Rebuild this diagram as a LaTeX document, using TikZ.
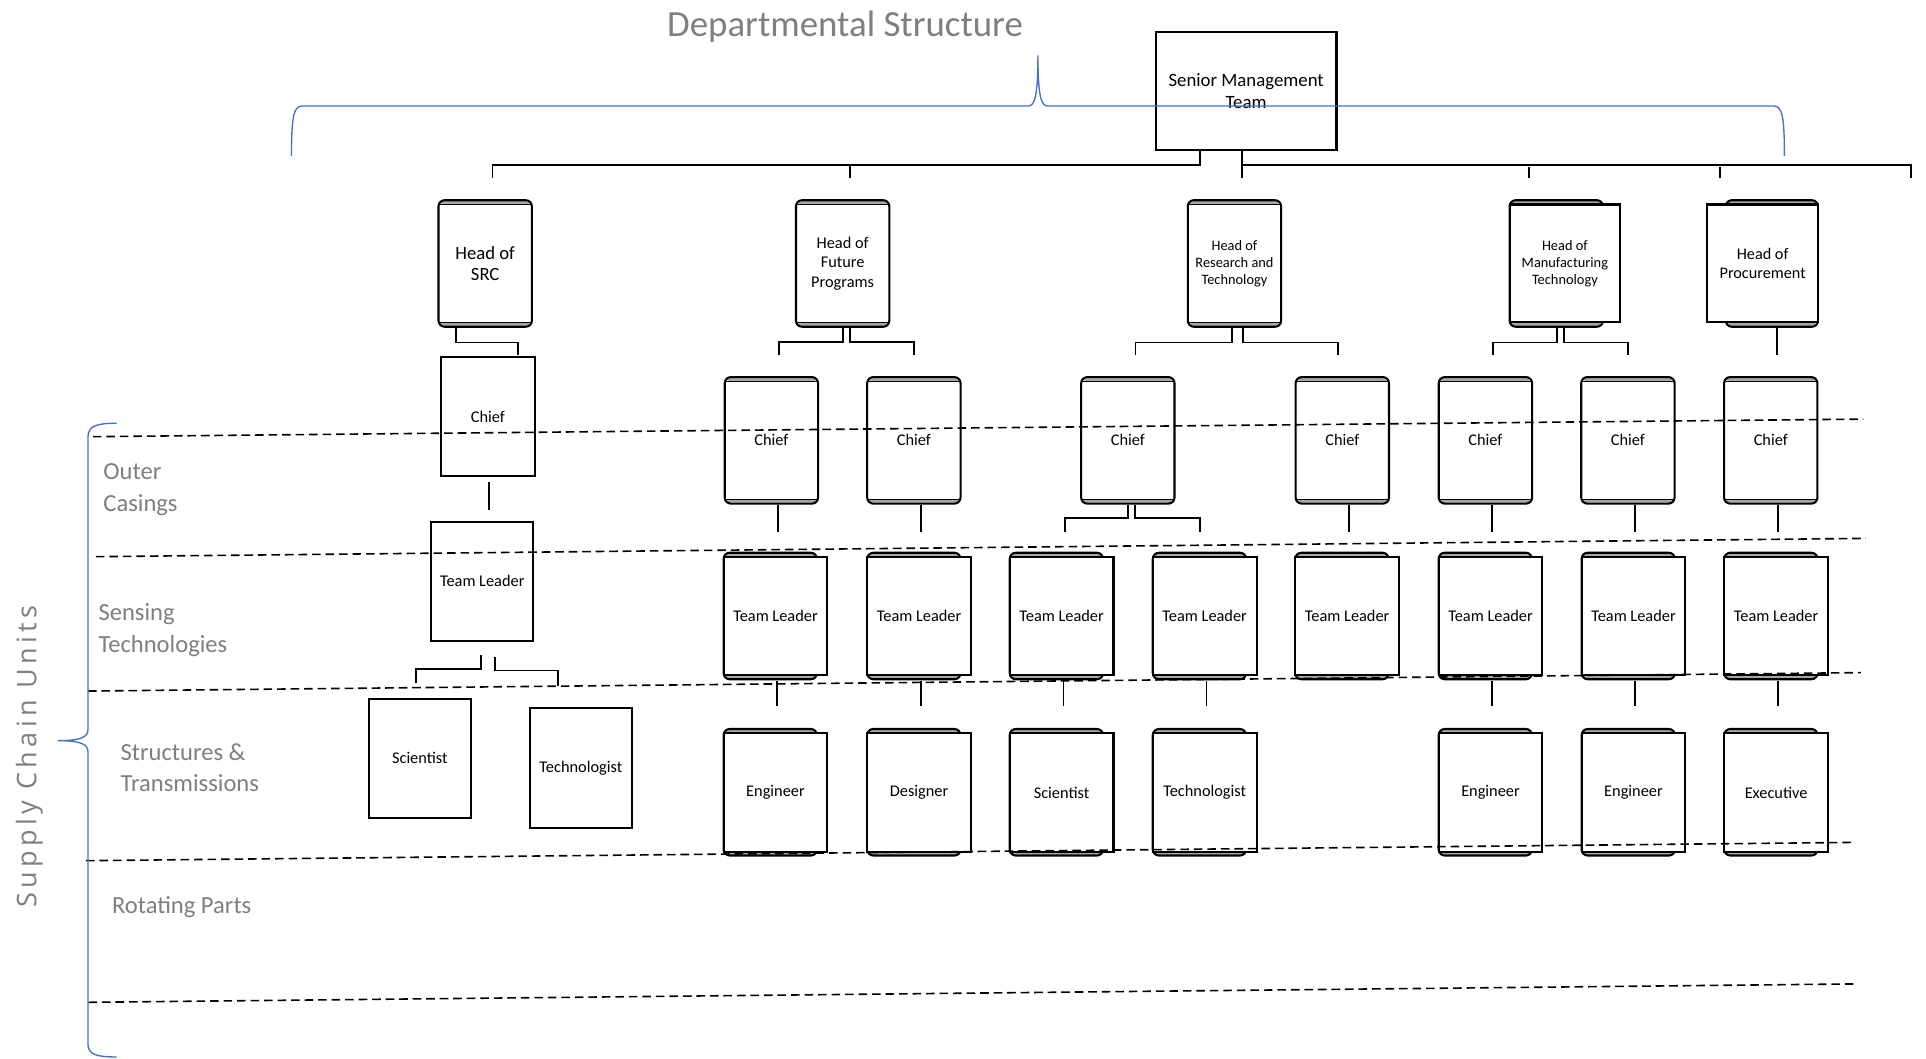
\documentclass[tikz,border=0pt]{standalone}
\usepackage{fontspec}
\setmainfont{Carlito}
\newfontfamily\scufont[LetterSpace=16]{Open Sans}
\usetikzlibrary{calc}
\definecolor{bracecol}{HTML}{4472C4}
\definecolor{labgray}{HTML}{7F7F7F}
\newcommand{\fs}[2]{\fontsize{#1}{#2}\selectfont}
\begin{document}
\begin{tikzpicture}[x=1pt,y=-1pt,
  conn/.style={line width=1.5pt},
  sepline/.style={line width=1.3pt, dash pattern=on 7pt off 4pt},
  bracepath/.style={draw=bracecol, line width=1.1pt},
  rbox/.style={draw, line width=1.7pt, rounded corners=5pt, fill=white, inner sep=0pt, align=center,
    minimum width=76pt, minimum height=103pt,
    path picture={
      \fill[black!35] ([yshift=-0.8pt]path picture bounding box.north west) rectangle ([yshift=-3.4pt]path picture bounding box.north east);
      \draw[line width=1pt] ([yshift=-3.4pt]path picture bounding box.north west) -- ([yshift=-3.4pt]path picture bounding box.north east);
      \fill[black!35] ([yshift=0.8pt]path picture bounding box.south west) rectangle ([yshift=3.4pt]path picture bounding box.south east);
      \draw[line width=1pt] ([yshift=3.4pt]path picture bounding box.south west) -- ([yshift=3.4pt]path picture bounding box.south east);
    }},
  sbox/.style={draw, line width=1.7pt, fill=white, inner sep=0pt, align=center},
  ttxt/.style={font=\fs{13.3}{16}},
  rowlab/.style={text=labgray, font=\fs{20}{26}, align=left, anchor=west, inner sep=0pt}
]
\fill[white] (0,0) rectangle (1568,862);
\useasboundingbox (0,0) rectangle (1568,862);

% title and side label
\node[font=\fs{30}{36}, text=labgray] (title) at (688,22) {Departmental Structure};
\node[font=\scufont\fs{22}{26}, text=labgray, rotate=90] (scu) at (24,616) {Supply Chain Units};

% row labels
\node[rowlab] (lab1) at (84,399) {Outer\\Casings};
\node[rowlab] (lab2) at (80,513) {Sensing\\Technologies};
\node[rowlab] (lab3) at (98,625) {Structures \&\\Transmissions};
\node[rowlab, anchor=base west] (lab4) at (91,744) {Rotating Parts};

% senior management
\node[sbox, line width=1.8pt, minimum width=147pt, minimum height=96pt, font=\fs{15.3}{17.5}] (smt) at (1014.5,74) {Senior Management\\Team};
\coordinate (e1) at (401,145);
\coordinate (e2) at (692,145);
\coordinate (e3) at (1011,145);
\coordinate (e4) at (1245,145);
\coordinate (e5) at (1400,145);
\coordinate (e6) at (1556,145);
\draw[conn] ([xshift=-37.5pt]smt.south) -- ++(0,11.5) -| (e1);
\draw[conn] (e2) -- ++(0,-11.5);
\draw[conn] ([xshift=-3.5pt]smt.south) -- (e3);
\draw[conn] ([xshift=-3.5pt,yshift=-11.5pt]smt.south) -| (e6);
\draw[conn] (e4) -- ++(0,-9);
\draw[conn] (e5) -- ++(0,-9);

% heads
\node[rbox, font=\fs{15.2}{17.5}] (hsrc) at (395,214.5) {Head of\\SRC};
\node[rbox, font=\fs{13.3}{16}] (hfp) at (686,214.5) {Head of\\Future\\Programs};
\node[rbox, font=\fs{11.7}{14}] (hrt) at (1005,214.5) {Head of\\Research and\\Technology};
\node[rbox] (hmtr) at (1267,214.5) {};
\node[sbox, minimum width=90pt, minimum height=96pt, font=\fs{11.7}{14}] (hmt) at (1274,214.5) {Head of\\Manufacturing\\Technology};
\node[rbox, minimum width=75pt] (hprr) at (1442.5,214.5) {};
\node[sbox, minimum width=90pt, minimum height=96pt, font=\fs{13.2}{16}] (hpr) at (1435,214.5) {Head of\\Procurement};

\draw[conn] ([xshift=-24pt]hsrc.south) -- ++(0,12) -| ++(51,10.5);
\draw[conn] ([xshift=0.4pt]hfp.south) -- ++(0,11.3) -| ++(-52.4,11.2);
\draw[conn] ([xshift=6pt]hfp.south) -- ++(0,11.3) -| ++(52,11.2);
\draw[conn] ([xshift=-2pt]hrt.south) -- ++(0,12) -| ++(-78.6,10.5);
\draw[conn] ([xshift=6.7pt]hrt.south) -- ++(0,12) -| ++(77.8,10.5);
\draw[conn] ([xshift=0.6pt]hmtr.south) -- ++(0,12) -| ++(-52.1,10.5);
\draw[conn] ([xshift=6.3pt]hmtr.south) -- ++(0,12) -| ++(51.9,10.5);
\draw[conn] ([xshift=4.5pt]hprr.south) -- ++(0,22.5);

% SRC column
\node[sbox, minimum width=76.4pt, minimum height=96.7pt, ttxt] (csrc) at (397.2,339.3) {Chief};
\node[sbox, minimum width=83.3pt, minimum height=96.9pt, ttxt] (tlsrc) at (392.6,473.1) {Team Leader};
\node[sbox, minimum width=83.2pt, minimum height=96.7pt, ttxt] (scsrc) at (341.8,617.4) {Scientist};
\node[sbox, minimum width=82.9pt, minimum height=97.1pt, ttxt] (tesrc) at (472.9,625.2) {Technologist};
\draw[conn] ([xshift=0.8pt,yshift=-4.3pt]csrc.south) -- ++(0,22);
\draw[conn] ([xshift=-1.2pt,yshift=-11.1pt]tlsrc.south) -- ++(0,11.3) -| ++(-52.4,11);
\draw[conn] ([xshift=10.1pt,yshift=-12.4pt]tlsrc.south) -- ++(0,11) -| ++(51.6,12.7);

% chiefs
\foreach \i/\x in {1/628, 2/744, 3/918.2, 4/1092.8, 5/1209.3, 6/1325.3, 7/1441.6}
  \node[rbox, ttxt] (c\i) at (\x,358.5) {Chief};
\foreach \i/\s in {1/5.4pt, 2/5.8pt, 4/5.6pt, 5/5.6pt, 6/5.6pt, 7/5.7pt}
  \draw[conn] ([xshift=\s]c\i.south) -- ++(0,22.2);
\draw[conn] ([xshift=0.4pt]c3.south) -- ++(0,10.8) -| ++(-51.7,11.4);
\draw[conn] ([xshift=6.1pt]c3.south) -- ++(0,10.8) -| ++(52.3,11.4);

% team leaders
\foreach \i/\x in {1/589.1, 2/706, 3/822, 4/938.5, 5/1054.5, 6/1171.2, 7/1287.6, 8/1403.7}{
  \node[rbox] (tlr\i) at ({\x+38},501.5) {};
  \node[sbox, minimum width=84.5pt, minimum height=96.3pt, ttxt] (tl\i) at ({\x+42.25},501.4) {Team Leader};
}

% bottom row
\foreach \i/\x/\t in {1/589.1/Engineer, 2/706/Designer, 3/822/Scientist, 4/938.5/Technologist, 6/1171.2/Engineer, 7/1287.6/Engineer, 8/1403.7/Executive}{
  \node[rbox] (chr\i) at ({\x+38},645) {};
  \node[sbox, minimum width=84.5pt, minimum height=96.4pt, ttxt] (ch\i) at ({\x+42.25},645.2) {\t};
  \draw[conn] ([xshift=1.5pt,yshift=-4pt]tl\i.south) -- ([xshift=1.5pt,yshift=21pt]ch\i.north);
}

% dashed separators
\draw[sepline] (75.6,355.5) -- (1517,341.2);
\draw[sepline] (78,453.2) -- (1519,438.3);
\draw[sepline] (71.6,562.6) -- (1515,547.6);
\draw[sepline] (70,700.7) -- (1510,685.8);
\draw[sepline] (72,816) -- (1513,801);

% braces
\draw[bracepath] (237.3,127) .. controls (237.3,95) and (239,86.3) .. (246,86.3) -- (837,86.3)
  .. controls (842,86.3) and (845,80) .. (845,45)
  .. controls (845,80) and (848,86.3) .. (853,86.3) -- (1444,86.3)
  .. controls (1451,86.3) and (1452.7,95) .. (1452.7,127);
\draw[bracepath] (95,344.6) .. controls (80,344.6) and (71.6,346) .. (71.6,356) -- (71.6,594)
  .. controls (71.6,600) and (66,603) .. (47,603)
  .. controls (66,603) and (71.6,606) .. (71.6,612) -- (71.6,850)
  .. controls (71.6,859) and (80,860.5) .. (95,860.5);
\end{tikzpicture}
\end{document}
